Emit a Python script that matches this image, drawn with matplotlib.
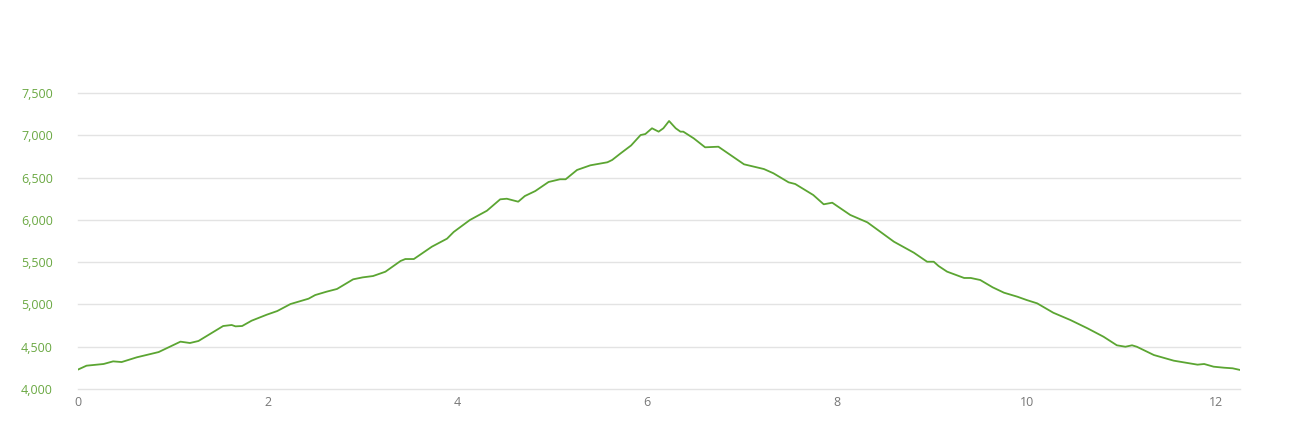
import numpy as np
import matplotlib.pyplot as plt

# distance (km-ish) and elevation read from the profile
dist = [0.00, 0.09, 0.27, 0.37, 0.46, 0.62, 0.85, 1.08, 1.18, 1.27, 1.53, 1.62, 1.66, 1.73,
        1.83, 1.99, 2.10, 2.24, 2.43, 2.50, 2.62, 2.73, 2.90, 3.00, 3.11, 3.24, 3.40, 3.45,
        3.54, 3.73, 3.89, 3.96, 4.13, 4.31, 4.45, 4.52, 4.64, 4.71, 4.82, 4.96, 5.08, 5.14,
        5.26, 5.40, 5.58, 5.63, 5.72, 5.83, 5.93, 5.98, 6.05, 6.12, 6.17, 6.23, 6.30, 6.35,
        6.38, 6.49, 6.61, 6.75, 7.02, 7.23, 7.33, 7.49, 7.56, 7.75, 7.86, 7.95, 8.14, 8.32,
        8.60, 8.81, 8.95, 9.02, 9.07, 9.16, 9.34, 9.41, 9.51, 9.64, 9.76, 9.90, 10.00, 10.11,
        10.28, 10.46, 10.64, 10.81, 10.95, 11.04, 11.11, 11.16, 11.34, 11.55, 11.80, 11.87,
        11.97, 12.08, 12.17, 12.25]
elev = [4230, 4276, 4296, 4327, 4319, 4375, 4437, 4560, 4544, 4568, 4745, 4757, 4741, 4745,
        4808, 4879, 4922, 5005, 5068, 5111, 5151, 5183, 5297, 5320, 5336, 5387, 5514, 5537,
        5537, 5683, 5778, 5857, 5998, 6108, 6243, 6250, 6215, 6282, 6341, 6448, 6480, 6480,
        6590, 6645, 6681, 6708, 6787, 6880, 7003, 7015, 7083, 7043, 7083, 7169, 7083, 7043,
        7043, 6964, 6858, 6865, 6657, 6601, 6551, 6444, 6424, 6294, 6184, 6203, 6058, 5971,
        5742, 5612, 5505, 5505, 5455, 5388, 5313, 5313, 5289, 5203, 5139, 5092, 5052, 5013,
        4902, 4816, 4718, 4618, 4517, 4500, 4517, 4500, 4402, 4335, 4288, 4296,
        4264, 4252, 4245, 4225]
yticks = [4000, 4500, 5000, 5500, 6000, 6500, 7000, 7500]
xticks = [0, 2, 4, 6, 8, 10, 12]

plt.rcParams['font.family'] = ['Open Sans', 'DejaVu Sans']

fig = plt.figure(figsize=(13, 4.3), dpi=100)
ax = fig.add_axes([0.06, 0.0953, 0.894, 0.6884])
ax.plot(dist, elev, color='#5ba532', lw=1.3)

ax.set_xlim(0, 12.25)
ax.set_ylim(4000, 7500)
ax.set_yticks(yticks)
ax.set_yticklabels([f'{v:,}' for v in yticks])
ax.set_xticks(xticks)
ax.grid(axis='y', color='#e3e3e3', lw=1)
ax.set_axisbelow(True)
for gl in ax.get_ygridlines():
    gl.set_clip_on(False)
for s in ax.spines.values():
    s.set_visible(False)
ax.tick_params(axis='y', length=0, pad=18, labelsize=9, labelcolor='#6aa842')
ax.tick_params(axis='x', length=0, pad=5, labelsize=9, labelcolor='#777777')

fig.savefig('out.png', dpi=100)
